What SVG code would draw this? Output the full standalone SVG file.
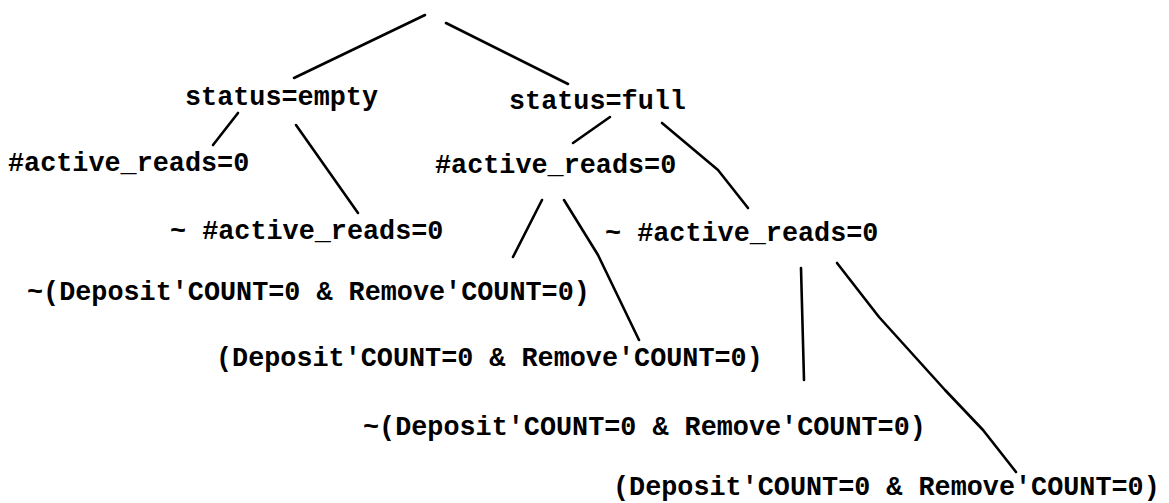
<svg xmlns="http://www.w3.org/2000/svg" width="1169" height="503" viewBox="0 0 1169 503">
<style>
.t{font-family:"Liberation Mono","DejaVu Sans Mono",monospace;font-size:26.8px;font-weight:bold;fill:#000;white-space:pre}
.c{fill:none;stroke:#000;stroke-width:2.6;stroke-linecap:round;stroke-linejoin:round}
</style>
<rect width="1169" height="503" fill="#fff"/>
<g id="connectors">
<path class="c" d="M425,15 L294,78"/>
<path class="c" d="M446,23 L568,84"/>
<path class="c" d="M238,113 L213,145"/>
<path class="c" d="M296,125 L358,213"/>
<path class="c" d="M610,117 L573,143"/>
<path class="c" d="M662,123 L718,170 L748,208"/>
<path class="c" d="M542,200 L513,257"/>
<path class="c" d="M564,200 L598,255 L639,340"/>
<path class="c" d="M801,268 L804,380"/>
<path class="c" d="M837,263 L879,317 L945,390 L983,430 L1016,472"/>
</g>
<g id="n-status-empty"><text class="t" x="185" y="105">status=empty</text></g>
<g id="n-status-full"><text class="t" x="509" y="109">status=full</text></g>
<g id="n-empty-reads0"><text class="t" x="8" y="171">#active_reads=0</text></g>
<g id="n-empty-notreads0"><text class="t" x="170" y="239">~ #active_reads=0</text></g>
<g id="n-full-reads0"><text class="t" x="435" y="173">#active_reads=0</text></g>
<g id="n-full-notreads0"><text class="t" x="605" y="241">~ #active_reads=0</text></g>
<g id="n-leaf1"><text class="t" x="27" y="300">~(Deposit'COUNT=0 &amp; Remove'COUNT=0)</text></g>
<g id="n-leaf2"><text class="t" x="216" y="366">(Deposit'COUNT=0 &amp; Remove'COUNT=0)</text></g>
<g id="n-leaf3"><text class="t" x="363" y="435">~(Deposit'COUNT=0 &amp; Remove'COUNT=0)</text></g>
<g id="n-leaf4"><text class="t" x="613" y="495">(Deposit'COUNT=0 &amp; Remove'COUNT=0)</text></g>
</svg>
